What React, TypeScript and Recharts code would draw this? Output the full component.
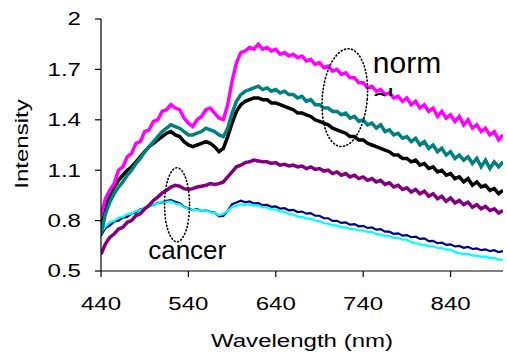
import { LineChart, Line, XAxis, YAxis, ReferenceDot } from 'recharts';

// wavelength grid, 5 nm steps from 440 to 900
const wavelengths = Array.from({ length: 93 }, (_, i) => 440 + i * 5);

const xTicks = [440, 540, 640, 740, 840];
const yTicks = [0.5, 0.8, 1.1, 1.4, 1.7, 2];

// normal spectra
const magenta = [
  0.83, 0.93, 0.98, 1.02, 1.1, 1.12, 1.18, 1.2, 1.26, 1.27,
  1.33, 1.34, 1.39, 1.4, 1.45, 1.46, 1.49, 1.47, 1.46, 1.41,
  1.38, 1.36, 1.4, 1.42, 1.46, 1.47, 1.44, 1.41, 1.4, 1.49,
  1.63, 1.74, 1.8, 1.81, 1.83, 1.82, 1.85, 1.82, 1.83, 1.81,
  1.82, 1.79, 1.8, 1.78, 1.79, 1.77, 1.78, 1.75, 1.76, 1.73,
  1.74, 1.71, 1.72, 1.69, 1.7, 1.67, 1.68, 1.65, 1.65, 1.62,
  1.62, 1.59, 1.6, 1.57, 1.58, 1.55, 1.56, 1.53, 1.54, 1.51,
  1.53, 1.49, 1.51, 1.47, 1.49, 1.45, 1.47, 1.42, 1.45, 1.41,
  1.43, 1.39, 1.42, 1.37, 1.4, 1.35, 1.37, 1.33, 1.35, 1.31,
  1.33, 1.28, 1.31,
];
const teal = [
  0.72, 0.84, 0.91, 0.96, 1.0, 1.03, 1.07, 1.1, 1.14, 1.17,
  1.21, 1.24, 1.27, 1.3, 1.33, 1.35, 1.37, 1.36, 1.35, 1.33,
  1.31, 1.31, 1.32, 1.33, 1.35, 1.34, 1.33, 1.31, 1.3, 1.35,
  1.44, 1.51, 1.55, 1.57, 1.58, 1.59, 1.6, 1.58, 1.59, 1.57,
  1.58, 1.56, 1.57, 1.55, 1.55, 1.53, 1.54, 1.51, 1.52, 1.49,
  1.49, 1.47, 1.47, 1.45, 1.45, 1.43, 1.44, 1.41, 1.42, 1.39,
  1.4, 1.37, 1.38, 1.35, 1.37, 1.33, 1.34, 1.31, 1.32, 1.29,
  1.3, 1.27, 1.29, 1.25, 1.27, 1.23, 1.25, 1.21, 1.23, 1.19,
  1.21, 1.17, 1.19, 1.16, 1.18, 1.14, 1.17, 1.12, 1.16, 1.11,
  1.15, 1.12, 1.15,
];
const black = [
  0.75, 0.88, 0.95, 1.0, 1.04, 1.07, 1.1, 1.12, 1.15, 1.18,
  1.21, 1.24, 1.26, 1.28, 1.3, 1.32, 1.33, 1.31, 1.3, 1.27,
  1.25, 1.24, 1.25, 1.26, 1.27, 1.26, 1.24, 1.21, 1.23, 1.3,
  1.38, 1.45, 1.49, 1.51, 1.52, 1.53, 1.53, 1.52, 1.52, 1.5,
  1.5, 1.49, 1.48, 1.47, 1.46, 1.44, 1.44, 1.43, 1.42, 1.4,
  1.39, 1.38, 1.37, 1.35, 1.34, 1.33, 1.32, 1.3, 1.3, 1.28,
  1.28, 1.26, 1.25, 1.24, 1.23, 1.22, 1.21, 1.19, 1.19, 1.17,
  1.17, 1.15, 1.16, 1.13, 1.14, 1.11, 1.12, 1.09, 1.1, 1.07,
  1.08, 1.05, 1.06, 1.03, 1.05, 1.01, 1.03, 1.0, 1.01, 0.98,
  0.99, 0.96, 0.98,
];
const purple = [
  0.6, 0.66, 0.7, 0.72, 0.75, 0.76, 0.79, 0.8, 0.83, 0.84,
  0.87, 0.89, 0.92, 0.94, 0.965, 0.98, 1.0, 1.01, 1.005, 0.99,
  0.985, 0.99, 1.0, 1.005, 1.01, 1.02, 1.015, 1.02, 1.03, 1.06,
  1.09, 1.12, 1.13, 1.145, 1.15, 1.16, 1.155, 1.15, 1.15, 1.14,
  1.145, 1.13, 1.135, 1.125, 1.13, 1.12, 1.125, 1.11, 1.12, 1.105,
  1.11, 1.095, 1.1, 1.08, 1.09, 1.07, 1.08, 1.06, 1.07, 1.05,
  1.06, 1.04, 1.05, 1.03, 1.04, 1.015, 1.025, 1.0, 1.01, 0.985,
  0.995, 0.97, 0.985, 0.96, 0.975, 0.945, 0.96, 0.93, 0.945, 0.915,
  0.935, 0.905, 0.92, 0.895, 0.91, 0.88, 0.895, 0.87, 0.885, 0.86,
  0.87, 0.845, 0.86,
];
// cancer spectra
const navy = [
  0.71, 0.755, 0.77, 0.795, 0.8, 0.818, 0.822, 0.843, 0.848, 0.868,
  0.872, 0.889, 0.893, 0.905, 0.908, 0.918, 0.922, 0.912, 0.903, 0.882,
  0.874, 0.862, 0.868, 0.857, 0.862, 0.852, 0.848, 0.825, 0.828, 0.858,
  0.898, 0.908, 0.918, 0.909, 0.914, 0.902, 0.904, 0.892, 0.893, 0.882,
  0.884, 0.871, 0.874, 0.861, 0.864, 0.851, 0.854, 0.841, 0.844, 0.829,
  0.829, 0.814, 0.814, 0.798, 0.799, 0.786, 0.789, 0.776, 0.779, 0.766,
  0.769, 0.756, 0.759, 0.746, 0.749, 0.734, 0.734, 0.721, 0.724, 0.711,
  0.714, 0.701, 0.704, 0.691, 0.694, 0.678, 0.679, 0.666, 0.669, 0.656,
  0.659, 0.646, 0.649, 0.638, 0.644, 0.631, 0.634, 0.624, 0.629, 0.618,
  0.624, 0.612, 0.619,
];
const cyan = [
  0.73, 0.765, 0.79, 0.797, 0.817, 0.822, 0.837, 0.842, 0.857, 0.862,
  0.877, 0.882, 0.897, 0.902, 0.914, 0.912, 0.914, 0.902, 0.897, 0.879,
  0.872, 0.863, 0.864, 0.858, 0.862, 0.849, 0.847, 0.832, 0.84, 0.857,
  0.882, 0.887, 0.897, 0.893, 0.897, 0.889, 0.89, 0.879, 0.878, 0.867,
  0.866, 0.854, 0.852, 0.839, 0.836, 0.824, 0.822, 0.812, 0.812, 0.799,
  0.797, 0.784, 0.782, 0.771, 0.77, 0.76, 0.76, 0.75, 0.75, 0.741,
  0.742, 0.732, 0.732, 0.719, 0.717, 0.707, 0.707, 0.697, 0.697, 0.687,
  0.687, 0.672, 0.667, 0.657, 0.657, 0.647, 0.647, 0.637, 0.637, 0.627,
  0.627, 0.612, 0.607, 0.599, 0.602, 0.592, 0.592, 0.584, 0.587, 0.577,
  0.577, 0.567, 0.567,
];

const data = wavelengths.map((wl, i) => ({
  wl,
  magenta: magenta[i],
  teal: teal[i],
  black: black[i],
  purple: purple[i],
  navy: navy[i],
  cyan: cyan[i],
}));

const FONT = '"Liberation Sans", Arial, sans-serif';
const STRETCH = 1.3;

const XTick = ({ x, y, payload }: any) => (
  <text
    transform={`translate(${x},${y}) scale(${STRETCH},1)`}
    textAnchor="middle"
    dy="0.71em"
    fontSize={18.5}
    fontFamily={FONT}
    fill="#000"
  >
    {payload.value}
  </text>
);

const YTick = ({ x, y, payload }: any) => (
  <text
    transform={`translate(${x},${y}) scale(${STRETCH},1)`}
    textAnchor="end"
    dy="0.35em"
    fontSize={18.5}
    fontFamily={FONT}
    fill="#000"
  >
    {payload.value}
  </text>
);

const XTitle = ({ viewBox }: any) => (
  <text
    transform={`translate(${viewBox.x + viewBox.width / 2},${viewBox.y + 76}) scale(${STRETCH},1)`}
    textAnchor="middle"
    fontSize={18.5}
    fontFamily={FONT}
    fill="#000"
  >
    Wavelength (nm)
  </text>
);

const YTitle = () => (
  <text
    transform={`translate(28,144) rotate(-90) scale(${STRETCH},1)`}
    textAnchor="middle"
    fontSize={18.5}
    fontFamily={FONT}
    fill="#000"
  >
    Intensity
  </text>
);

const Ellipse = (rx: number, ry: number, angle: number) => ({ cx, cy }: any) => (
  <ellipse
    cx={cx}
    cy={cy}
    rx={rx}
    ry={ry}
    transform={`rotate(${angle},${cx},${cy})`}
    fill="none"
    stroke="#000"
    strokeWidth={1.6}
    strokeDasharray="1 2.6"
    strokeLinecap="round"
  />
);

const Note = (txt: string, size: number) => ({ cx, cy }: any) => (
  <text x={cx} y={cy} fontSize={size} fontFamily={FONT} fill="#000">
    {txt}
  </text>
);

// second line of "normal", mostly hidden under the spectra in the original
const PartialAl = ({ cx, cy }: any) => (
  <g>
    <defs>
      <clipPath id="alClip">
        <rect x={cx - 2} y={cy - 24} width={30} height={12} />
      </clipPath>
    </defs>
    <text x={cx} y={cy} fontSize={28} fontFamily={FONT} fill="#000" clipPath="url(#alClip)">
      al
    </text>
  </g>
);

export default function App() {
  return (
    <div style={{ position: 'absolute', left: 0, top: 0, width: 507, height: 355, background: '#fff' }}>
      <LineChart width={507} height={355} data={data} margin={{ top: 19, right: 4, left: 0, bottom: 0 }}>
        <XAxis
          dataKey="wl"
          type="number"
          domain={[440, 900]}
          ticks={xTicks}
          allowDataOverflow
          height={84}
          tickSize={6}
          tickMargin={20}
          tick={<XTick />}
          axisLine={{ stroke: '#000', strokeWidth: 1.2 }}
          tickLine={{ stroke: '#000', strokeWidth: 1.2 }}
          label={<XTitle />}
        />
        <XAxis xAxisId="top" orientation="top" type="number" domain={[440, 900]} height={0} tick={false} tickLine={false} axisLine={{ stroke: '#000' }} />
        <YAxis
          type="number"
          domain={[0.5, 2]}
          ticks={yTicks}
          allowDataOverflow
          width={101}
          tickSize={6}
          tickMargin={14}
          tick={<YTick />}
          axisLine={{ stroke: '#000', strokeWidth: 1.2 }}
          tickLine={{ stroke: '#000', strokeWidth: 1.2 }}
          label={<YTitle />}
        />
        <YAxis yAxisId="right" orientation="right" domain={[0.5, 2]} width={0} tick={false} tickLine={false} axisLine={{ stroke: '#000' }} />

        <ReferenceDot x={750} y={1.47} shape={PartialAl} />

        <Line dataKey="navy" stroke="#000080" strokeWidth={2.2} dot={false} isAnimationActive={false} />
        <Line dataKey="cyan" stroke="#00FFFF" strokeWidth={2.2} dot={false} isAnimationActive={false} />
        <Line dataKey="purple" stroke="#800080" strokeWidth={3.5} dot={false} isAnimationActive={false} />
        <Line dataKey="black" stroke="#000000" strokeWidth={3.5} dot={false} isAnimationActive={false} />
        <Line dataKey="teal" stroke="#008080" strokeWidth={3.5} dot={false} isAnimationActive={false} />
        <Line dataKey="magenta" stroke="#FF00FF" strokeWidth={3.5} dot={false} isAnimationActive={false} />

        <ReferenceDot x={527} y={0.894} shape={Ellipse(12.5, 37, 0)} />
        <ReferenceDot x={719} y={1.532} shape={Ellipse(22.5, 49, 5)} />
        <ReferenceDot x={751} y={1.681} shape={Note('norm', 30)} />
        <ReferenceDot x={494} y={0.572} shape={Note('cancer', 26)} />
      </LineChart>
    </div>
  );
}
